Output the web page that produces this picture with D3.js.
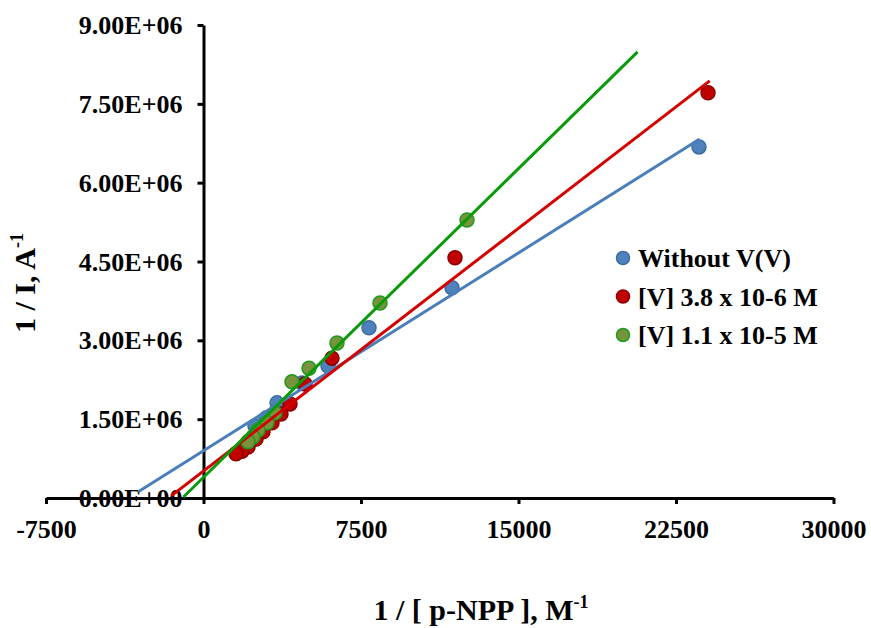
<!DOCTYPE html>
<html>
<head>
<meta charset="utf-8">
<script src="https://cdn.jsdelivr.net/npm/d3@7"></script>
<style>
  html, body { margin: 0; padding: 0; background: #fff; }
  svg { display: block; }
  text { font-family: "Liberation Serif", "Times New Roman", serif; font-weight: bold; fill: #000; }
</style>
</head>
<body>
<svg id="chart" width="871" height="628"></svg>
<script>
// Lineweaver–Burk plot: 1/I versus 1/[p-NPP] for three vanadium levels

const seriesNames = ["Without V(V)", "[V] 3.8 x 10-6 M", "[V] 1.1 x 10-5 M"];

// 1/[p-NPP] (M^-1) and 1/I (A^-1) for each series
const blueX = [23595, 11833, 7881, 5929, 4690, 3500, 2976, 2452];
const blueY = [6.68e6, 4.00e6, 3.24e6, 2.51e6, 2.19e6, 1.81e6, 1.52e6, 1.37e6];

const redX = [24024, 11976, 6119, 4833, 4119, 3690, 3262, 2833, 2500, 2119, 1833, 1548];
const redY = [7.71e6, 4.57e6, 2.66e6, 2.17e6, 1.79e6, 1.60e6, 1.43e6, 1.26e6, 1.12e6, 0.97e6, 0.89e6, 0.84e6];

const greenX = [12548, 8405, 6357, 5024, 4214, 3405, 3024, 2595, 2357, 2119];
const greenY = [5.29e6, 3.71e6, 2.95e6, 2.47e6, 2.21e6, 1.62e6, 1.43e6, 1.29e6, 1.16e6, 1.07e6];

// Linear trendline end points [x0, y0, x1, y1] for each series
const blueTrend = [-3048, 0.133e6, 23571, 6.815e6];
const redTrend = [-1476, 0.057e6, 24048, 7.92e6];
const greenTrend = [-905, 0.038e6, 20619, 8.47e6];

// Axis ticks
const xTicks = [-7500, 0, 7500, 15000, 22500, 30000];
const yTicks = [0, 1.5e6, 3.0e6, 4.5e6, 6.0e6, 7.5e6, 9.0e6];
const yTickLabels = ["0.00E+00", "1.50E+06", "3.00E+06", "4.50E+06", "6.00E+06", "7.50E+06", "9.00E+06"];

const svg = d3.select("#chart");

const x = d3.scaleLinear().domain([-7500, 30000]).range([46, 833.5]);
const y = d3.scaleLinear().domain([0, 9e6]).range([498, 25]);

const styles = [
  { fill: "#4F81BD", stroke: "#3F6C9F", line: "#4A7EBB" },
  { fill: "#C00000", stroke: "#8C0000", line: "#D40000" },
  { fill: "#77933C", stroke: "#1E9A1E", line: "#0A9A0A" }
];

const series = [
  { xs: blueX, ys: blueY, trend: blueTrend },
  { xs: redX, ys: redY, trend: redTrend },
  { xs: greenX, ys: greenY, trend: greenTrend }
];

// Axes: x axis along 1/I = 0, y axis along 1/[S] = 0
const xAxis = d3.axisBottom(x).tickValues(xTicks).tickFormat(d => String(d)).tickSize(6).tickSizeOuter(0);
const gx = svg.append("g").attr("transform", `translate(0,${y(0)})`).call(xAxis);
gx.select(".domain").attr("stroke", "#000").attr("stroke-width", 3);
gx.selectAll(".tick line").attr("stroke", "#000").attr("stroke-width", 3);
gx.selectAll(".tick text").attr("font-size", 26).attr("y", 40).attr("dy", 0)
  .attr("font-family", "Liberation Serif, Times New Roman, serif").attr("font-weight", "bold").attr("fill", "#000");

const yAxis = d3.axisLeft(y).tickValues(yTicks).tickFormat((d, i) => yTickLabels[i]).tickSize(6).tickSizeOuter(0);
const gy = svg.append("g").attr("transform", `translate(${x(0)},0)`).call(yAxis);
gy.select(".domain").attr("stroke", "#000").attr("stroke-width", 3);
gy.selectAll(".tick line").attr("stroke", "#000").attr("stroke-width", 3);
gy.selectAll(".tick text").attr("font-size", 26).attr("x", -21).attr("dy", "0.33em")
  .attr("font-family", "Liberation Serif, Times New Roman, serif").attr("font-weight", "bold").attr("fill", "#000");

// Data markers
series.forEach((s, i) => {
  svg.append("g").selectAll("circle")
    .data(s.xs.map((v, k) => [v, s.ys[k]]))
    .join("circle")
    .attr("cx", d => x(d[0]))
    .attr("cy", d => y(d[1]))
    .attr("r", 7)
    .attr("fill", styles[i].fill)
    .attr("stroke", styles[i].stroke)
    .attr("stroke-width", 1.5);
});

// Trendlines
series.forEach((s, i) => {
  const t = s.trend;
  svg.append("line")
    .attr("x1", x(t[0])).attr("y1", y(t[1]))
    .attr("x2", x(t[2])).attr("y2", y(t[3]))
    .attr("stroke", styles[i].line)
    .attr("stroke-width", 3)
    .attr("stroke-linecap", "square");
});

// Legend
const legend = svg.append("g").attr("transform", "translate(623,258)");
seriesNames.forEach((name, i) => {
  const g = legend.append("g").attr("transform", `translate(0,${i * 38.5})`);
  g.append("circle").attr("r", 6.5).attr("fill", styles[i].fill)
    .attr("stroke", styles[i].stroke).attr("stroke-width", 1.5);
  g.append("text").attr("x", 15).attr("y", 9).attr("font-size", 26).text(name);
});

// Axis titles
const xt = svg.append("text").attr("x", 481).attr("y", 620).attr("text-anchor", "middle").attr("font-size", 30);
xt.append("tspan").text("1 / [ p-NPP ], M");
xt.append("tspan").attr("font-size", 18).attr("dy", -12).text("-1");

const yt = svg.append("text").attr("transform", "translate(35,283) rotate(-90)").attr("text-anchor", "middle").attr("font-size", 30);
yt.append("tspan").text("1 / I, A");
yt.append("tspan").attr("font-size", 18).attr("dy", -12).text("-1");
</script>
</body>
</html>
